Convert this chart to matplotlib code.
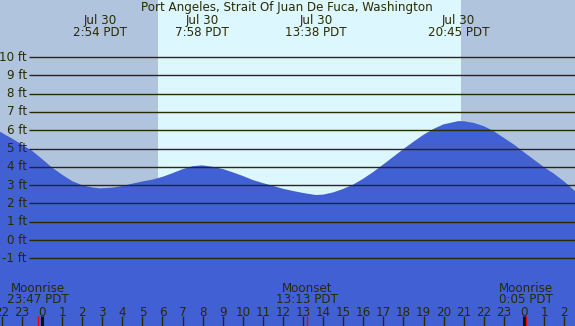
import matplotlib
matplotlib.use("Agg")
import matplotlib.pyplot as plt
from matplotlib.transforms import blended_transform_factory

# ---------------- data ----------------
title = "Port Angeles, Strait Of Juan De Fuca, Washington"

# tide heights (ft), hours relative to Jul 30 00:00 PDT
tide_hours = [-2.1, -2, -1.5, -1, -0.5, 0, 0.5, 1, 1.5, 2, 2.5, 2.9, 3.5, 4, 4.5, 5, 5.5,
              6, 6.5, 7, 7.5, 7.97, 8.5, 9, 9.5, 10, 10.5, 11, 11.5, 12, 12.5, 13,
              13.63, 14, 14.5, 15, 15.5, 16, 16.5, 17, 17.5, 18, 18.5, 19, 19.5, 20,
              20.75, 21, 21.5, 22, 22.5, 23, 23.5, 24, 24.5, 25, 25.5, 26, 26.6]
tide_ft = [5.92, 5.86, 5.55, 5.21, 4.88, 4.43, 3.96, 3.57, 3.22, 2.99, 2.87, 2.82, 2.86,
           2.95, 3.08, 3.20, 3.30, 3.45, 3.65, 3.87, 4.03, 4.08, 4.00, 3.88, 3.70, 3.50,
           3.28, 3.11, 2.96, 2.80, 2.68, 2.57, 2.46, 2.48, 2.60, 2.79, 3.03, 3.35, 3.72,
           4.13, 4.55, 4.97, 5.37, 5.75, 6.07, 6.32, 6.50, 6.49, 6.40, 6.22, 5.95, 5.58,
           5.22, 4.80, 4.39, 3.98, 3.62, 3.20, 2.62]

extreme_hours = [2.9, 7.967, 13.633, 20.75]
extreme_labels = ["Jul 30\n2:54 PDT", "Jul 30\n7:58 PDT", "Jul 30\n13:38 PDT", "Jul 30\n20:45 PDT"]

sunrise_h = 5.78
sunset_h = 20.87

moon_hours = [-0.217, 13.217, 24.083]
moon_labels = ["Moonrise\n23:47 PDT", "Moonset\n13:13 PDT", "Moonrise\n0:05 PDT"]

ft_levels = list(range(-1, 11))
hour_ticks = list(range(-2, 27))

# ---------------- style ----------------
NIGHT = "#b0c4de"
DAY = "#ddf7fe"
WATER = "#4160d4"
INK = "#2a2a00"
FS = 8.6

W, H = 575, 326
px_per_hr = 20.08
x0_hr = -42 / px_per_hr
x1_hr = x0_hr + W / px_per_hr
px_per_ft = 18.3
y_top = 240 / px_per_ft
y_bot = -(H - 240) / px_per_ft

fig = plt.figure(figsize=(W / 100, H / 100), dpi=100)
ax = fig.add_axes([0, 0, 1, 1])
ax.set_xlim(x0_hr, x1_hr)
ax.set_ylim(y_bot, y_top)
ax.axis("off")

ax.axvspan(x0_hr, sunrise_h, color=NIGHT, lw=0, zorder=0)
ax.axvspan(sunrise_h, sunset_h, color=DAY, lw=0, zorder=0)
ax.axvspan(sunset_h, x1_hr, color=NIGHT, lw=0, zorder=0)

ax.fill_between(tide_hours, y_bot, tide_ft, color=WATER, lw=0, zorder=1)

trans = blended_transform_factory(ax.transData, ax.transAxes)
def yf(py):
    return 1 - py / H

line_start = x0_hr + 29 / px_per_hr
for lv in ft_levels:
    ax.plot([line_start, x1_hr], [lv, lv], color=INK, lw=1.0, zorder=2, solid_capstyle="butt")
    ax.text(x0_hr + 27 / px_per_hr, lv - 3.5 / px_per_ft, f"{lv} ft", ha="right", va="baseline",
            fontsize=FS, color=INK, zorder=3)

ax.text(x0_hr + 287 / px_per_hr, yf(11), title, transform=trans, ha="center", va="baseline",
        fontsize=FS, color=INK)

for h, lab in zip(extreme_hours, extreme_labels):
    l1, l2 = lab.split("\n")
    ax.text(h, yf(24), l1, transform=trans, ha="center", va="baseline", fontsize=FS, color=INK)
    ax.text(h, yf(35.7), l2, transform=trans, ha="center", va="baseline", fontsize=FS, color=INK)

for h, lab in zip(moon_hours, moon_labels):
    l1, l2 = lab.split("\n")
    ax.text(h, yf(291.7), l1, transform=trans, ha="center", va="baseline", fontsize=FS, color=INK)
    ax.text(h, yf(303.3), l2, transform=trans, ha="center", va="baseline", fontsize=FS, color=INK)

for h in hour_ticks:
    ax.text(h, yf(315.7), str(h % 24), transform=trans, ha="center", va="baseline",
            fontsize=FS, color=INK)
    if h % 24 == 0:
        ax.plot([h, h], [0, yf(316)], transform=trans, color="#111100", lw=2.2, solid_capstyle="butt")
    else:
        ax.plot([h, h], [0, yf(316)], transform=trans, color=INK, lw=1.0, solid_capstyle="butt")

for h in moon_hours:
    ax.plot([h, h], [0, yf(316)], transform=trans, color="#ee0000", lw=1.0, solid_capstyle="butt")

fig.savefig("out.png", dpi=100)
